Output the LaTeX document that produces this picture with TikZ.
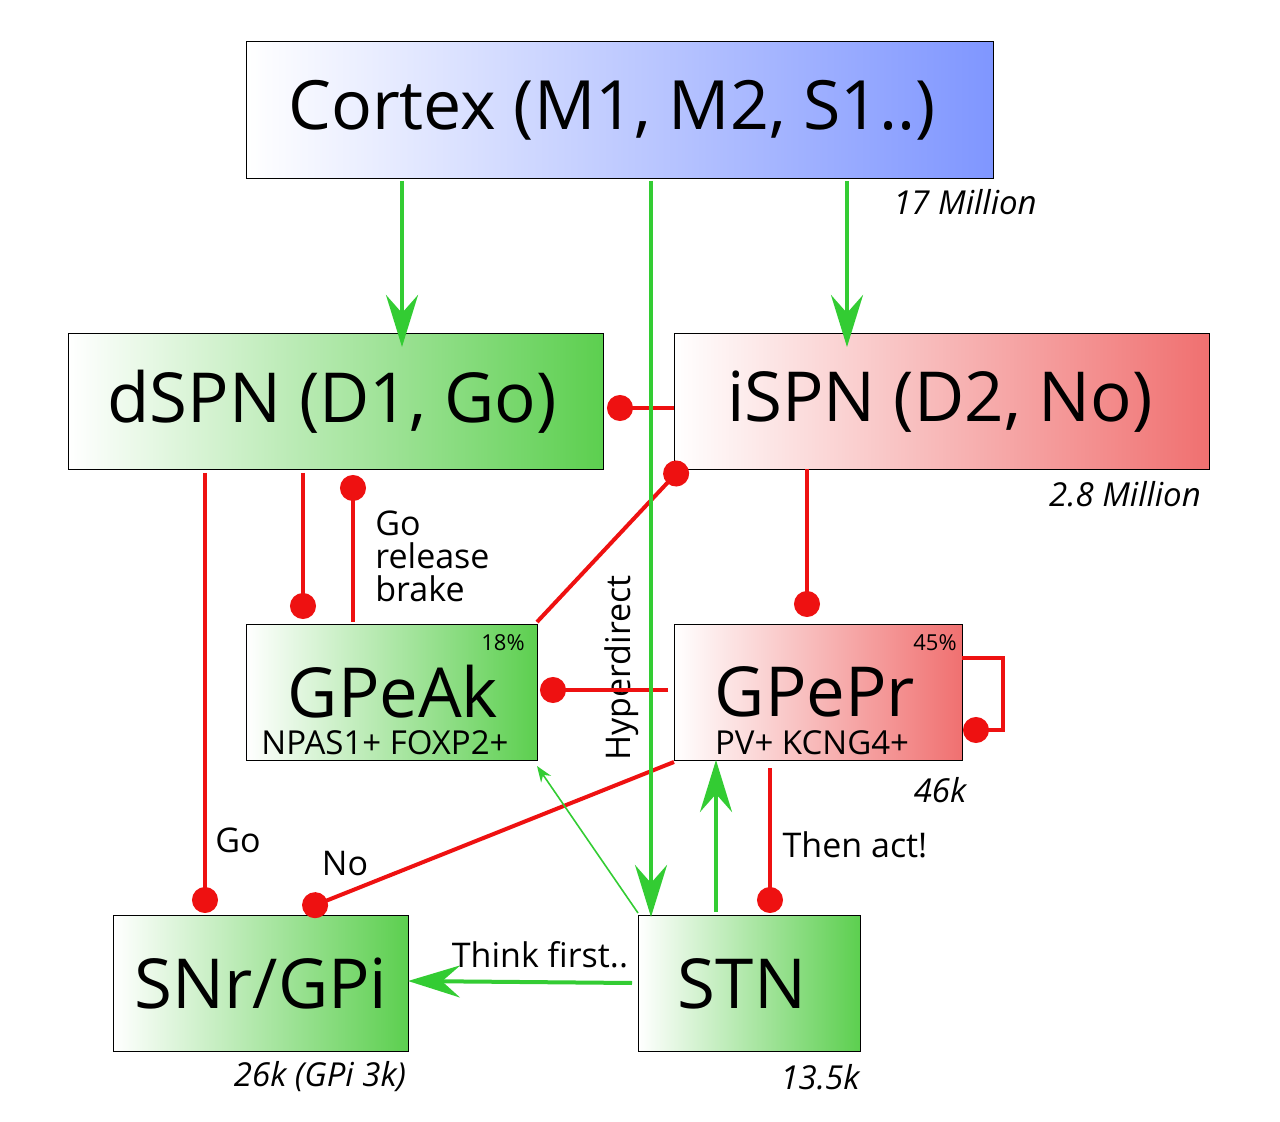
\documentclass[tikz,border=0pt]{standalone}
\usepackage{fontspec}
\setmainfont{Open Sans}
\usetikzlibrary{arrows.meta}
\definecolor{gr}{HTML}{33CC33}
\definecolor{rd}{HTML}{EE1111}
\definecolor{gbox}{HTML}{5CCF4F}
\definecolor{rbox}{HTML}{F07070}
\definecolor{bbox}{HTML}{7F96FF}
\begin{document}
\begin{tikzpicture}[x=0.5pt,y=-0.5pt,
 box/.style={draw=black,line width=0.6pt,inner sep=0pt,anchor=north west},
 gbx/.style={box,left color=white,right color=gbox},
 rbx/.style={box,left color=white,right color=rbox},
 ga/.style={draw=gr,line width=2pt,-{Stealth[length=26pt,width=16pt,inset=9pt]}},
 rl/.style={draw=rd,line width=2pt,-{Circle[length=13pt,width=13pt]}},
 lab/.style={font=\fontsize{17}{20}\selectfont},
 num/.style={font=\itshape\fontsize{16.5}{19}\selectfont},
 big/.style={font=\fontsize{34.5}{38}\selectfont},
 sub/.style={font=\fontsize{16.5}{19}\selectfont}]
\useasboundingbox (0,0) rectangle (1280,1122);
\node[box,left color=white,right color=bbox,minimum width=373.5pt,minimum height=68.5pt] (ctx) at (246,41) {};
\node[font=\fontsize{34}{38}\selectfont] at (612,110) {Cortex (M1, M2, S1..)};
\node[gbx,minimum width=267.5pt,minimum height=68pt] (d) at (68,333) {};
\node[big] at (332,402) {dSPN (D1, Go)};
\node[rbx,minimum width=267.5pt,minimum height=68pt] (i) at (674,333) {};
\node[big] at (940,402) {iSPN (D2, No)};
\node[gbx,minimum width=145.5pt,minimum height=68pt] (ak) at (246,624) {};
\node[big] at (393,692) {GPeAk};
\node[sub] at (385,743) {NPAS1+ FOXP2+};
\node[font=\fontsize{11}{12}\selectfont] at (503,643) {18\%};
\node[rbx,minimum width=144pt,minimum height=68pt] (pr) at (674,624) {};
\node[big] at (815,692) {GPePr};
\node[sub] at (812,743) {PV+ KCNG4+};
\node[font=\fontsize{11}{12}\selectfont] at (935,643) {45\%};
\node[gbx,minimum width=147.5pt,minimum height=68pt] (snr) at (113,915) {};
\node[big] at (261,984) {SNr/GPi};
\node[gbx,minimum width=111pt,minimum height=68pt] (stn) at (638,915) {};
\node[big] at (742,984) {STN};
% numbers
\node[num] at (965,202) {17 Million};
\node[num] at (1125,494) {2.8 Million};
\node[num] at (940,790) {46k};
\node[num] at (320,1077) {26k (GPi 3k)};
\node[num] at (820,1077) {13.5k};
% labels
\node[lab,anchor=north west,align=left,inner sep=0pt,font=\fontsize{17}{16.5}\selectfont] at (375,510) {Go\\release\\brake};
\node[lab,rotate=90] at (622,668) {Hyperdirect};
\node[lab] at (238,840) {Go};
\node[lab] at (345,864) {No};
\node[lab] at (855,845) {Then act!};
\node[lab] at (540,955) {Think first..};
% red connections
\coordinate (c1) at (607,408); \draw[rl] (674,408) -- (c1);
\draw[rl] (537,622) -- (685,464);
\draw[rl] (807,469) -- (807,617);
\draw[rl] (303,473) -- (303,619);
\draw[rl] (353,622) -- (353,475);
\draw[rl] (205,473) -- (205,913);
\draw[rl] (668,690) -- (540,690);
\draw[rl] (962,658) -- (1003,658) -- (1003,730) -- (963,730);
\draw[rl] (674,762) -- (303,910);
\draw[rl] (770,768) -- (770,913);
% green
\draw[ga] (402,181) -- (402,347);
\draw[ga] (847,181) -- (847,347);
\draw[ga] (651,181) -- (651,917);
\draw[ga] (716,912) -- (716,760);
\draw[ga] (632,983) -- (408,981);
\draw[draw=gr,line width=0.8pt,-{Stealth[length=8pt,width=6pt]}] (638,913) -- (537,766);
\end{tikzpicture}
\end{document}
